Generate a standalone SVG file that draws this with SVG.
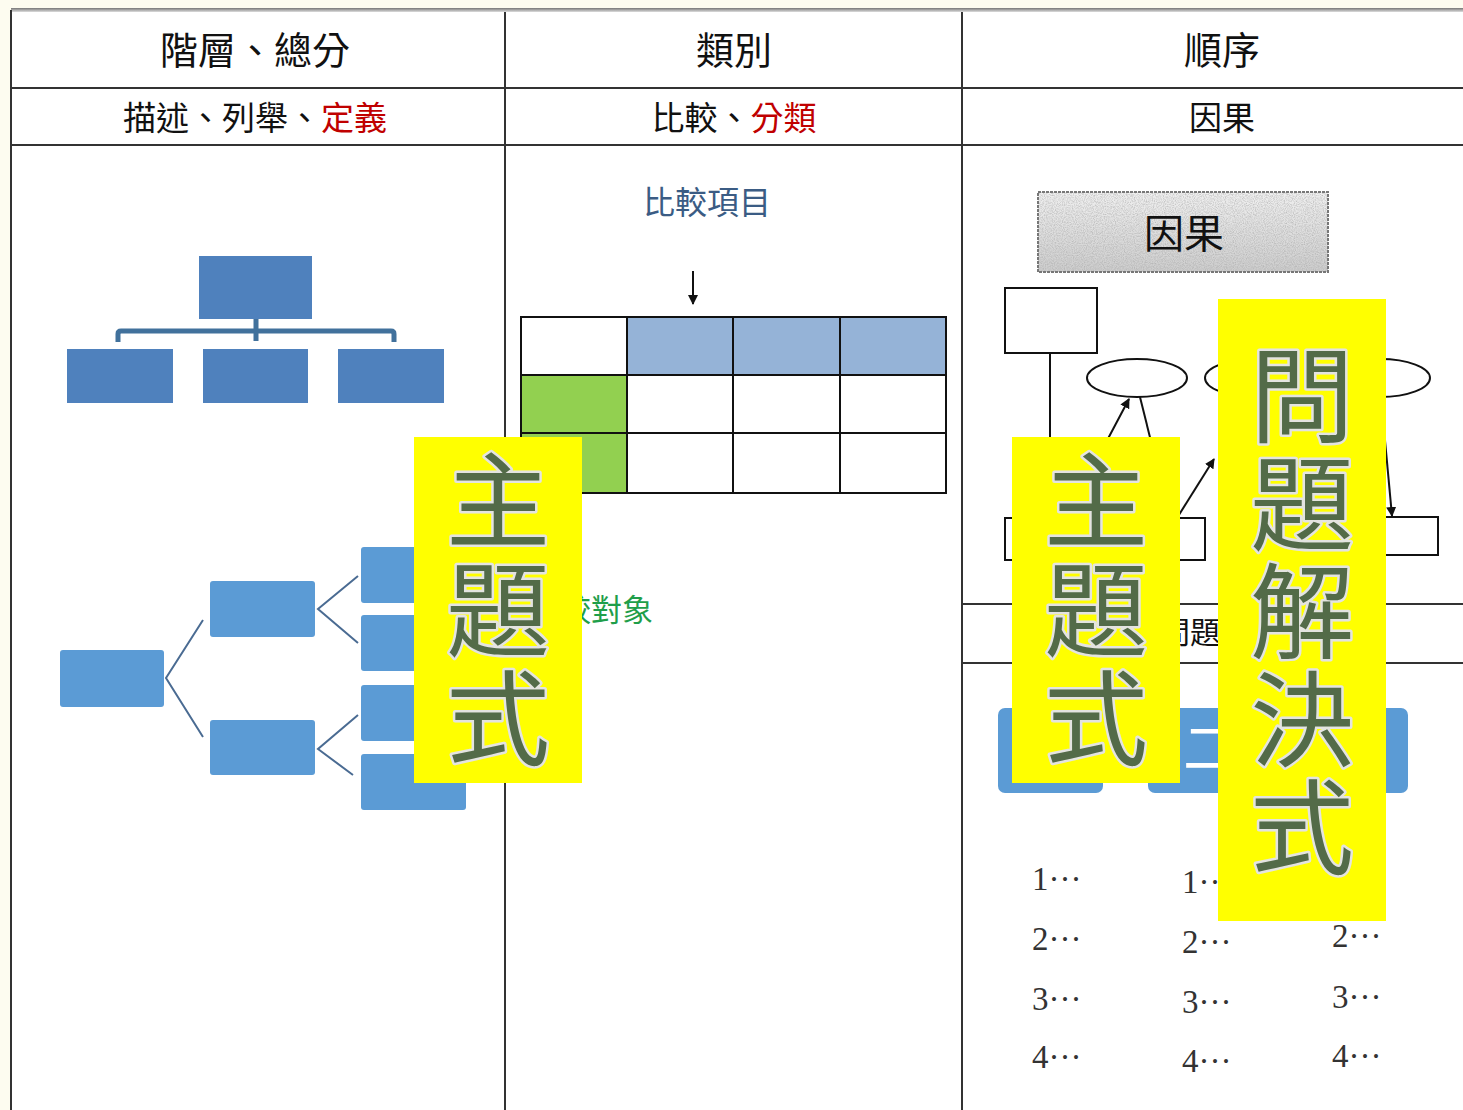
<svg xmlns="http://www.w3.org/2000/svg" width="1463" height="1110" viewBox="0 0 1463 1110">
<style>
.hd{font-family:"Noto Sans CJK TC","Noto Sans CJK SC",sans-serif;font-size:38px;fill:#111;text-anchor:middle}
.sh{font-family:"Noto Sans CJK TC","Noto Sans CJK SC",sans-serif;font-size:33px;fill:#111;text-anchor:middle}
.red{fill:#c00000}
.grid{stroke:#333;stroke-width:2;fill:none}
.cell{stroke:#111;stroke-width:2}
.org{fill:#4f81bd}
.tree{fill:#5b9bd5}
.tl{stroke:#4a6b92;stroke-width:2;fill:none}
.ln{stroke:#111;stroke-width:2;fill:none}
.num{font-family:"Liberation Serif",serif;font-size:33px;fill:#333}
.yb{fill:#ffff00}
.yt{font-family:"Noto Sans CJK TC","Noto Sans CJK SC",sans-serif;font-size:104px;fill:#536b48;stroke:#e4e4e0;stroke-width:5;paint-order:stroke;stroke-linejoin:round;writing-mode:vertical-rl}
</style>
<defs>
<marker id="ah" viewBox="0 0 10 10" refX="9" refY="5" markerWidth="5" markerHeight="5" orient="auto">
<path d="M0,0 L10,5 L0,10 z" fill="#111"/>
</marker>
<linearGradient id="gg" x1="0" y1="0" x2="0" y2="1">
<stop offset="0" stop-color="#f0f0f0"/>
<stop offset="1" stop-color="#cdcdcd"/>
</linearGradient>
<linearGradient id="topbar" x1="0" y1="0" x2="0" y2="1">
<stop offset="0" stop-color="#777"/>
<stop offset="1" stop-color="#ddd"/>
</linearGradient>
<filter id="noise" x="0" y="0" width="100%" height="100%">
<feTurbulence type="fractalNoise" baseFrequency="0.9" numOctaves="2" seed="3" result="n"/>
<feColorMatrix in="n" type="matrix" values="0 0 0 0 0.4  0 0 0 0 0.4  0 0 0 0 0.4  0 0 0 1.4 -0.5" result="d"/>
<feComposite in="d" in2="SourceGraphic" operator="in" result="dd"/>
<feMerge><feMergeNode in="SourceGraphic"/><feMergeNode in="dd"/></feMerge>
</filter>
</defs>
<rect x="0" y="0" width="1463" height="1110" fill="#fdfcf0"/>
<rect x="11" y="10" width="1452" height="1100" fill="#ffffff"/>
<g id="table">
<rect x="11" y="8" width="1452" height="4" fill="url(#topbar)"/>
<line class="grid" x1="11" y1="10" x2="11" y2="1110"/>
<line class="grid" x1="505" y1="12" x2="505" y2="1110"/>
<line class="grid" x1="962" y1="12" x2="962" y2="1110"/>
<line class="grid" x1="11" y1="88" x2="1463" y2="88"/>
<line class="grid" x1="11" y1="145" x2="1463" y2="145"/>
<line class="grid" x1="962" y1="604" x2="1463" y2="604"/>
<line class="grid" x1="962" y1="663" x2="1463" y2="663"/>
</g>
<g id="headers">
<text class="hd" x="255" y="64">階層、總分</text>
<text class="hd" x="734" y="64">類別</text>
<text class="hd" x="1222" y="64">順序</text>
<text class="sh" x="255" y="130">描述、列舉、<tspan class="red">定義</tspan></text>
<text class="sh" x="734" y="130">比較、<tspan class="red">分類</tspan></text>
<text class="sh" x="1222" y="130">因果</text>
</g>
<g id="org-chart">
<rect class="org" x="199" y="256" width="113" height="63"/>
<path d="M256,319 V341 M118,342 V334 Q118,331 121,331 H391 Q394,331 394,334 V342" stroke="#41719c" stroke-width="5" fill="none"/>
<rect class="org" x="67" y="349" width="106" height="54"/>
<rect class="org" x="203" y="349" width="105" height="54"/>
<rect class="org" x="338" y="349" width="106" height="54"/>
</g>
<g id="tree">
<rect class="tree" x="60" y="650" width="104" height="57" rx="3"/>
<rect class="tree" x="210" y="581" width="105" height="56" rx="3"/>
<rect class="tree" x="210" y="720" width="105" height="55" rx="3"/>
<rect class="tree" x="361" y="547" width="105" height="56" rx="3"/>
<rect class="tree" x="361" y="615" width="105" height="56" rx="3"/>
<rect class="tree" x="361" y="685" width="105" height="56" rx="3"/>
<rect class="tree" x="361" y="754" width="105" height="56" rx="3"/>
<path class="tl" d="M203,620 L166,678 L203,737 M358,576 L318,609 L358,643 M358,715 L318,749 L353,775"/>
</g>
<g id="compare">
<text x="707" y="214" font-family="Noto Sans CJK TC, Noto Sans CJK SC, sans-serif" font-size="32" fill="#3b5c84" text-anchor="middle">比較項目</text>
<line class="ln" x1="693" y1="271" x2="693" y2="304" stroke-width="1.5" marker-end="url(#ah)"/>
<rect x="627" y="317" width="319" height="58" fill="#95b3d7"/>
<rect x="521" y="375" width="106" height="118" fill="#92d050"/>
<path class="cell" fill="none" d="M521,317 H946 V493 H521 Z M521,375 H946 M521,433 H946 M627,317 V493 M733,317 V493 M840,317 V493"/>
<text x="529" y="621" font-family="Noto Sans CJK TC, Noto Sans CJK SC, sans-serif" font-size="31" fill="#1f9e4a">比較對象</text>
</g>
<g id="cause-effect">
<rect x="1038" y="192" width="290" height="80" fill="url(#gg)" filter="url(#noise)"/>
<rect x="1038" y="192" width="290" height="80" fill="none" stroke="#777" stroke-width="2" stroke-dasharray="3,1"/>
<text x="1184" y="248" font-family="Noto Sans CJK TC, Noto Sans CJK SC, sans-serif" font-size="40" fill="#111" text-anchor="middle">因果</text>
<rect class="ln" x="1005" y="288" width="92" height="65"/>
<ellipse class="ln" cx="1137" cy="378" rx="50" ry="19"/>
<ellipse class="ln" cx="1255" cy="378" rx="50" ry="19"/>
<ellipse class="ln" cx="1380" cy="378" rx="50" ry="19"/>
<rect class="ln" x="1005" y="518" width="200" height="42"/>
<rect class="ln" x="1330" y="517" width="108" height="38"/>
</g>
<g id="connectors">
<line class="ln" x1="1050" y1="353" x2="1050" y2="518"/>
<line class="ln" x1="1066" y1="518" x2="1129" y2="399" marker-end="url(#ah)"/>
<line class="ln" x1="1140" y1="397" x2="1170" y2="518"/>
<line class="ln" x1="1177" y1="518" x2="1214" y2="459" marker-end="url(#ah)"/>
<line class="ln" x1="1381" y1="397" x2="1392" y2="516" marker-end="url(#ah)"/>
</g>
<g id="problem">
<text x="1160" y="643" font-family="Noto Sans CJK TC, Noto Sans CJK SC, sans-serif" font-size="30" fill="#111">問題</text>
<rect class="tree" x="998" y="708" width="105" height="85" rx="7"/>
<rect class="tree" x="1148" y="708" width="260" height="85" rx="7"/>
<text x="1183" y="768" font-family="Noto Sans CJK TC, Noto Sans CJK SC, sans-serif" font-size="56" fill="#ffffff">二</text>
<text class="num" x="1032" y="890">1···</text>
<text class="num" x="1032" y="950">2···</text>
<text class="num" x="1032" y="1010">3···</text>
<text class="num" x="1032" y="1068">4···</text>
<text class="num" x="1182" y="893">1···</text>
<text class="num" x="1182" y="953">2···</text>
<text class="num" x="1182" y="1013">3···</text>
<text class="num" x="1182" y="1072">4···</text>
<text class="num" x="1332" y="947">2···</text>
<text class="num" x="1332" y="1008">3···</text>
<text class="num" x="1332" y="1067">4···</text>
</g>
<g id="label-topic-1">
<rect class="yb" x="414" y="437" width="168" height="346"/>
<text class="yt" x="498" y="448" letter-spacing="5">主題式</text>
</g>
<g id="label-topic-2">
<rect class="yb" x="1012" y="437" width="168" height="346"/>
<text class="yt" x="1096" y="448" letter-spacing="5">主題式</text>
</g>
<g id="label-problem">
<rect class="yb" x="1218" y="299" width="168" height="622"/>
<text class="yt" x="1302" y="343" letter-spacing="4">問題解決式</text>
</g>
</svg>
